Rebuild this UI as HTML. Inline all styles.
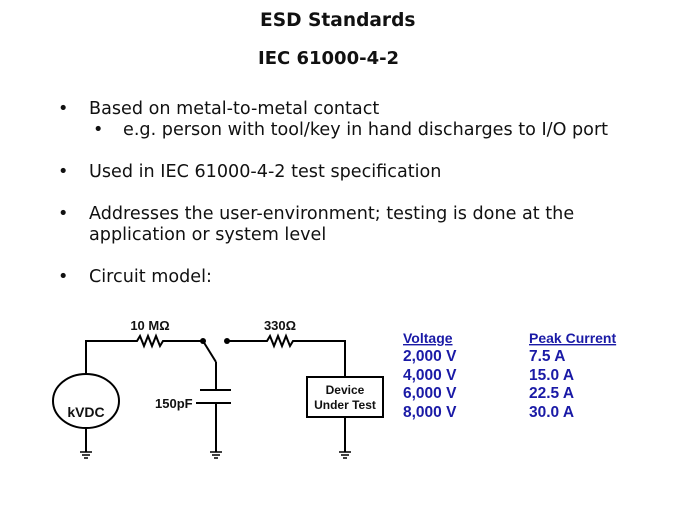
<!DOCTYPE html>
<html><head><style>
body{margin:0;width:675px;height:506px;background:#fff;position:relative;overflow:hidden;font-family:"DejaVu Sans","Liberation Sans",sans-serif;color:#111}
.t{position:absolute;white-space:nowrap;line-height:20px}
.b{font-size:17.6px}
</style></head><body>
<div class="t" style="left:260px;top:11px;font-size:18.6px;font-weight:bold">ESD Standards</div>
<div class="t" style="left:258px;top:49px;font-size:18px;font-weight:bold">IEC 61000-4-2</div>
<div class="t b" style="left:58px;top:99px">•</div><div class="t b" style="left:89px;top:99px">Based on metal-to-metal contact</div>
<div class="t b" style="left:93px;top:120px">•</div><div class="t b" style="left:123px;top:120px">e.g. person with tool/key in hand discharges to I/O port</div>
<div class="t b" style="left:58px;top:162px">•</div><div class="t b" style="left:89px;top:162px">Used in IEC 61000-4-2 test specification</div>
<div class="t b" style="left:58px;top:204px">•</div><div class="t b" style="left:89px;top:204px">Addresses the user-environment; testing is done at the</div>
<div class="t b" style="left:89px;top:225px">application or system level</div>
<div class="t b" style="left:58px;top:267px">•</div><div class="t b" style="left:89px;top:267px">Circuit model:</div>
<svg width="675" height="506" style="position:absolute;left:0;top:0" font-family="Liberation Sans, sans-serif" font-weight="bold">
<g stroke="#000" stroke-width="2" fill="none">
<polyline points="86,375 86,341 137,341 140,336 144,346 148,336 152,346 156,336 160,346 163,341 203,341"/>
<ellipse cx="86" cy="401" rx="33" ry="27"/>
<line x1="86" y1="428" x2="86" y2="452"/>
<line x1="203" y1="341" x2="216" y2="362"/>
<polyline points="216,362 216,390"/>
<line x1="200" y1="390" x2="231" y2="390"/>
<line x1="200" y1="403" x2="231" y2="403"/>
<line x1="216" y1="403" x2="216" y2="452"/>
<polyline points="227,341 267,341 270,336 274,346 278,336 282,346 286,336 290,346 293,341 345,341 345,377"/>
<rect x="307" y="377" width="76" height="40"/>
<line x1="345" y1="417" x2="345" y2="452"/>
<line x1="196" y1="403" x2="200" y2="403"/>
<g stroke-width="1.5">
<line x1="80" y1="452" x2="92" y2="452"/><line x1="82" y1="455" x2="90" y2="455"/><line x1="84" y1="458" x2="88" y2="458"/>
<line x1="210" y1="452" x2="222" y2="452"/><line x1="212" y1="455" x2="220" y2="455"/><line x1="214" y1="458" x2="218" y2="458"/>
<line x1="339" y1="452" x2="351" y2="452"/><line x1="341" y1="455" x2="349" y2="455"/><line x1="343" y1="458" x2="347" y2="458"/>
</g></g>
<circle cx="203" cy="341" r="3"/><circle cx="227" cy="341" r="3"/>
<g font-size="13" fill="#111">
<text x="150" y="330" text-anchor="middle">10 MΩ</text>
<text x="280" y="330" text-anchor="middle">330Ω</text>
<text x="86" y="417" text-anchor="middle" font-size="14">kVDC</text>
<text x="155" y="408">150pF</text>
<text x="345" y="394" text-anchor="middle" font-size="12">Device</text>
<text x="345" y="409" text-anchor="middle" font-size="12">Under Test</text>
</g>
<g fill="#1a1aa6" font-size="15.5">
<text x="403" y="343" font-size="14" text-decoration="underline">Voltage</text>
<text x="403" y="361">2,000 V</text><text x="403" y="380">4,000 V</text><text x="403" y="398">6,000 V</text><text x="403" y="417">8,000 V</text>
<text x="529" y="343" font-size="14" text-decoration="underline">Peak Current</text>
<text x="529" y="361">7.5 A</text><text x="529" y="380">15.0 A</text><text x="529" y="398">22.5 A</text><text x="529" y="417">30.0 A</text>
</g>
</svg>
</body></html>
